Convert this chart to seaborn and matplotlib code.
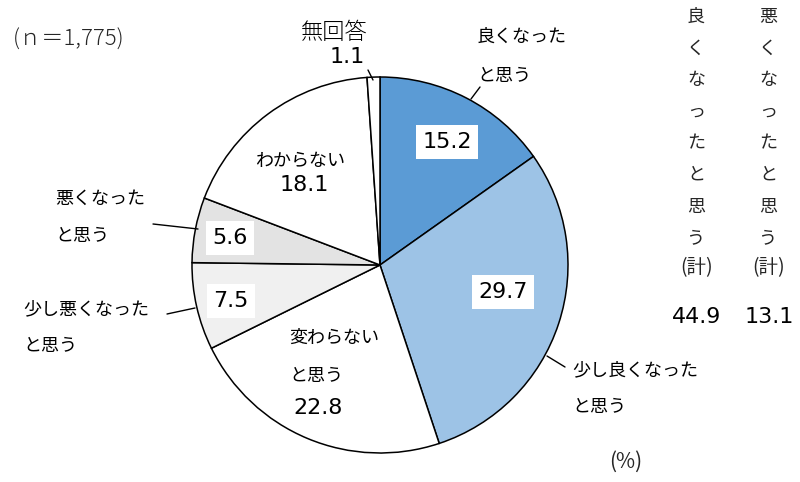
import matplotlib
matplotlib.use("Agg")
import matplotlib.pyplot as plt
import seaborn as sns

# ---- data ----
categories = ["良くなったと思う", "少し良くなったと思う", "変わらないと思う",
              "少し悪くなったと思う", "悪くなったと思う", "わからない", "無回答"]
values = [15.2, 29.7, 22.8, 7.5, 5.6, 18.1, 1.1]
summary_titles = ["良くなったと思う", "悪くなったと思う"]
summary_values = [44.9, 13.1]
n_label = "(ｎ＝1,775)"
unit_label = "(%)"

# ---- style ----
sns.set_theme(style="white")
plt.rcParams["font.family"] = ["Noto Sans CJK JP", "DejaVu Sans"]
colors = ["#5B9BD5", "#9DC3E6", "#FFFFFF", "#F0F0F0", "#E3E3E3", "#FFFFFF", "#FFFFFF"]

W, H = 800, 482
fig = plt.figure(figsize=(W / 100, H / 100), dpi=100)
ax = fig.add_axes([0, 0, 1, 1])


def Y(y):
    return H - y


cx, cy, R = 380, 265, 188
ax.pie(values, colors=colors, startangle=90, counterclock=False,
       center=(cx, Y(cy)), radius=R,
       wedgeprops=dict(edgecolor="black", linewidth=1.1))
ax.set_xlim(0, W)
ax.set_ylim(0, H)
ax.set_aspect("auto")
ax.axis("off")

LBL = 13
NUM = 16
NUMFONT = dict(family=["DejaVu Sans"], fontsize=NUM, fontweight="normal")
fmt = lambda v: f"{v:.1f}"

layout = {
    0: dict(lines=[("良くなった", 477, 37), ("と思う", 477, 76)], ha="left",
            val=(447, 142), box=True, lead=((471, 99), (480, 87))),
    1: dict(lines=[("少し良くなった", 572, 370), ("と思う", 572, 407)], ha="left",
            val=(503, 292), box=True, lead=((547, 356), (565, 367))),
    2: dict(lines=[("変わらない", 289, 338), ("と思う", 289, 376)], ha="left",
            val=(318, 408), box=False, lead=None),
    3: dict(lines=[("少し悪くなった", 23, 309), ("と思う", 23, 346)], ha="left",
            val=(231, 301), box=True, lead=((195, 308), (167, 314))),
    4: dict(lines=[("悪くなった", 55, 199), ("と思う", 55, 236)], ha="left",
            val=(230, 238), box=True, lead=((198, 229), (153, 224))),
    5: dict(lines=[("わからない", 300, 161)], ha="center",
            val=(304, 185), box=False, lead=None),
    6: dict(lines=[("無回答", 334, 33)], ha="center",
            val=(347, 57), box=False, lead=((373, 80), (368, 70)), big=True),
}

for i, v in enumerate(values):
    L = layout[i]
    fs = 16 if L.get("big") else LBL
    for txt, x, y in L["lines"]:
        ax.text(x, Y(y), txt, ha=L["ha"], va="center", fontsize=fs, color="black",
                fontweight="light" if L.get("big") else "normal")
    vx, vy = L["val"]
    kw = {}
    if L["box"]:
        kw["bbox"] = dict(boxstyle="square,pad=0.3", facecolor="white", edgecolor="none")
    ax.text(vx, Y(vy), fmt(v), ha="center", va="center", color="black", **NUMFONT, **kw)
    if L["lead"]:
        (x0, y0), (x1, y1) = L["lead"]
        ax.plot([x0, x1], [Y(y0), Y(y1)], color="black", linewidth=1.0)

# summary vertical columns
col_x = [696, 768]
for t, sv, x in zip(summary_titles, summary_values, col_x):
    for k, ch in enumerate(t):
        ax.text(x, Y(17 + k * 31.6), ch, ha="center", va="center", fontsize=LBL)
    ax.text(x + 1, Y(268), "(計)", ha="center", va="center", fontsize=14)
    ax.text(x + 1, Y(317), fmt(sv), ha="center", va="center", color="black", **NUMFONT)

ax.text(13, Y(40), n_label, ha="left", va="center", fontsize=16, fontweight="light")
ax.text(626, Y(462), unit_label, ha="center", va="center", fontsize=15)

fig.savefig("out.png", dpi=100, facecolor="white")
